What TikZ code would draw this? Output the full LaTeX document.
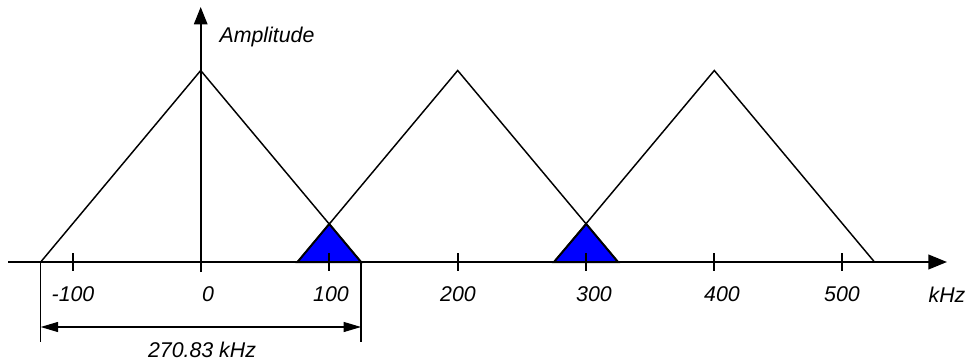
\documentclass[tikz,border=0pt]{standalone}
\usepackage{fontspec}
\setmainfont{Liberation Sans}
\usetikzlibrary{arrows.meta}
\tikzset{
  lbl/.style={inner sep=0pt, font=\fontsize{16}{19}\selectfont\itshape},
  tri/.style={line width=1.1pt, line join=miter},
  axis/.style={line width=1.5pt},
  tick/.style={line width=1.4pt},
  dim/.style={line width=0.8pt},
  overlap/.style={fill={rgb,255:red,0;green,0;blue,255}, draw=black, line width=1.5pt, line join=miter}
}
\begin{document}
\begin{tikzpicture}[x=0.75pt,y=-0.75pt]
\useasboundingbox (0,0) rectangle (971,364);
% coordinates
\coordinate (axL) at (8,262);
\coordinate (axR) at (947,262);
\coordinate (vB) at (200.7,272);
\coordinate (vT) at (200.7,7);
% triangles
\draw[tri] (40.7,262) -- (200.7,70.5) -- (361,262);
\draw[tri] (297.5,262) -- (457.7,70.5) -- (618,262);
\draw[tri] (554,262) -- (714.3,70.5) -- (874.5,262);
% overlaps
\draw[overlap] (297.5,262) -- (329.25,224) -- (361,262) -- cycle;
\draw[overlap] (554,262) -- (586.2,224) -- (618,262) -- cycle;
% axes
\draw[axis, -{Triangle[length=14pt,width=11pt]}] (axL) -- (axR);
\draw[axis, -{Triangle[length=13pt,width=10pt]}] (vB) -- (vT);
% ticks
\foreach \x in {73,329.25,457.7,586.2,714.3,842.3}
  \draw[tick] (\x,253) -- (\x,271);
% tick labels
\node[lbl] (tm100) at (73,294) {-100};
\node[lbl] (t0) at (208,294) {0};
\node[lbl] (t100) at (331,294) {100};
\node[lbl] (t200) at (458,294) {200};
\node[lbl] (t300) at (594,294) {300};
\node[lbl] (t400) at (722,294) {400};
\node[lbl] (t500) at (842,294) {500};
\node[lbl] (khz) at (947,295) {kHz};
\node[lbl] (amp) at (267,37) {Amplitude};
% dimension
\coordinate (dL) at (40.7,262);
\coordinate (dR) at (361,262);
\coordinate (dLb) at (40.7,342);
\coordinate (dRb) at (361,342);
\draw[dim] (dL) -- (dLb);
\draw[dim] (dR) -- (dRb);
\coordinate (aL) at (40.7,327);
\coordinate (aR) at (361,327);
\draw[dim, {Triangle[length=13pt,width=7.5pt]}-{Triangle[length=13pt,width=7.5pt]}] (aL) -- (aR);
\node[lbl] (bw) at (202,350) {270.83 kHz};
\end{tikzpicture}
\end{document}
